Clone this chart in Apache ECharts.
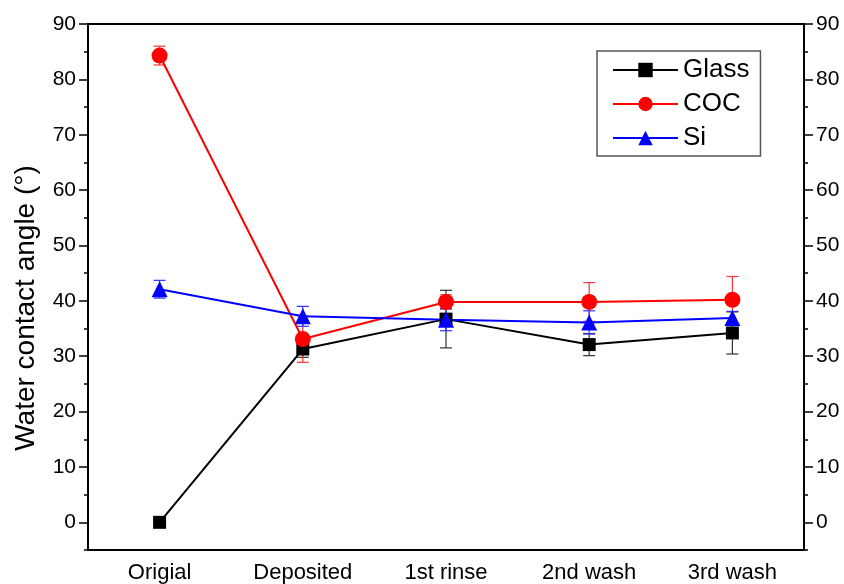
<!DOCTYPE html>
<html><head><meta charset="utf-8">
<script src="https://cdn.jsdelivr.net/npm/echarts@6/dist/echarts.min.js"></script>
<style>html,body{margin:0;padding:0;background:#fff}#c{width:844px;height:584px}</style>
</head><body><div id="c"></div>
<script>
const categories = ['Origial', 'Deposited', '1st rinse', '2nd wash', '3rd wash'];
const glass = [0, 31.3, 36.7, 32.1, 34.2];
const glassErr = [0, 1.5, 5.2, 2.0, 3.8];
const coc = [84.3, 33.1, 39.8, 39.8, 40.2];
const cocErr = [1.7, 4.2, 1.3, 3.5, 4.2];
const si = [42.1, 37.2, 36.6, 36.1, 36.9];
const siErr = [1.6, 1.8, 2.0, 2.1, 1.2];
const yMajorTicks = [0, 10, 20, 30, 40, 50, 60, 70, 80, 90];

const font = 'Liberation Sans, Arial, sans-serif';
function errSeries(vals, errs, color) {
  return {
    type: 'custom', xAxisIndex: 0, yAxisIndex: 0, z: 3, silent: true,
    data: vals.map((v, i) => [i, v, errs[i]]),
    encode: { x: 0, y: 1 },
    renderItem: function (params, api) {
      const x = api.value(0), v = api.value(1), e = api.value(2);
      if (!e) return null;
      const top = api.coord([x, v + e]);
      const bot = api.coord([x, v - e]);
      const w = 6;
      const st = { stroke: color, lineWidth: 1.2 };
      return { type: 'group', children: [
        { type: 'line', shape: { x1: top[0], y1: top[1], x2: bot[0], y2: bot[1] }, style: st },
        { type: 'line', shape: { x1: top[0] - w, y1: top[1], x2: top[0] + w, y2: top[1] }, style: st },
        { type: 'line', shape: { x1: bot[0] - w, y1: bot[1], x2: bot[0] + w, y2: bot[1] }, style: st }
      ]};
    }
  };
}
function lineSeries(name, vals, color, symbol, size) {
  return {
    name: name, type: 'line', xAxisIndex: 0, yAxisIndex: 0, z: 4,
    data: vals, symbol: symbol, symbolSize: size,
    lineStyle: { color: color, width: 2 },
    itemStyle: { color: color },
    emphasis: { disabled: true }
  };
}
function yAx(pos, major) {
  return {
    type: 'value', position: pos, min: -5, max: 90, interval: 5,
    axisLine: { show: !major, onZero: false, lineStyle: { color: '#000', width: 2 } },
    axisTick: major
      ? { show: true, inside: false, length: 9, customValues: yMajorTicks, lineStyle: { color: '#000', width: 1.5 } }
      : { show: true, inside: false, length: 4, lineStyle: { color: '#000', width: 1.5 } },
    axisLabel: major
      ? { show: true, customValues: yMajorTicks, fontSize: 21, color: '#000', fontFamily: font, margin: 12 }
      : { show: false },
    splitLine: { show: false }
  };
}
const chart = echarts.init(document.getElementById('c'), null, { renderer: 'canvas' });
const leftMajor = yAx('left', true);
leftMajor.name = 'Water contact angle (°)';
leftMajor.nameLocation = 'middle';
leftMajor.nameGap = 48;
leftMajor.nameTextStyle = { fontSize: 28, color: '#000', fontFamily: font, padding: [0, 42, 0, 0] };
chart.setOption({
  animation: false,
  backgroundColor: '#fff',
  grid: { left: 88, right: 40, top: 24, bottom: 34, show: true, borderColor: '#000', borderWidth: 2 },
  legend: {
    orient: 'vertical', left: 597, top: 51,
    data: ['Glass', 'COC', 'Si'],
    itemWidth: 65, itemHeight: 18, itemGap: 8,
    borderColor: '#555', borderWidth: 1.5, padding: [6, 11, 5, 15],
    textStyle: { fontSize: 26, color: '#000', fontFamily: font }
  },
  xAxis: [
    { type: 'category', data: categories, boundaryGap: true, position: 'bottom',
      axisLine: { onZero: false, lineStyle: { color: '#000', width: 2 } },
      axisTick: { alignWithLabel: true, inside: true, length: 10, lineStyle: { color: '#000', width: 1.5 } },
      axisLabel: { fontSize: 22, color: '#000', fontFamily: font, margin: 12 } },
    { type: 'category', data: categories, boundaryGap: true, position: 'bottom',
      axisLine: { show: false, onZero: false },
      axisTick: { inside: true, length: 6, lineStyle: { color: '#000', width: 1.5 } },
      axisLabel: { show: false } }
  ],
  yAxis: [leftMajor, yAx('left', false), yAx('right', true), yAx('right', false)],
  series: [
    errSeries(glass, glassErr, '#333'),
    errSeries(coc, cocErr, '#ff3333'),
    errSeries(si, siErr, '#3333ff'),
    lineSeries('Glass', glass, '#000', 'rect', 13),
    lineSeries('COC', coc, '#ff0000', 'circle', 16),
    lineSeries('Si', si, '#0000ff', 'triangle', 16)
  ]
});
</script></body></html>
